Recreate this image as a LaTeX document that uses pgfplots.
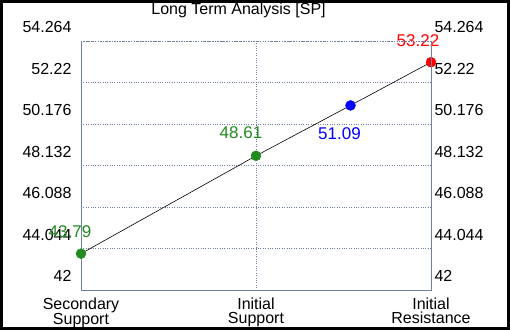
\documentclass[border=0pt]{standalone}
\usepackage{pgfplots}
\pgfplotsset{compat=1.18}
\usepackage{fontspec}
\setmainfont{Liberation Sans}
\definecolor{axc}{RGB}{112,128,164}
\definecolor{grn}{RGB}{34,139,34}
\begin{document}
\begin{tikzpicture}[x=1bp,y=1bp]
\fill[black] (0,0) rectangle (510,330);
\fill[white] (3,3) rectangle (507,327);
\pgfplotsset{
  common/.style={
    scale only axis, width=350bp, height=249bp,
    at={(81bp,40bp)}, anchor=south west,
    xmin=0, xmax=2, ymin=42, ymax=54.264,
    ytick={42,44.044,46.088,48.132,50.176,52.22,54.264},
    yticklabels={42,44.044,46.088,48.132,50.176,52.22,54.264},
    major tick length=0pt,
    axis line style={axc, line width=0.9bp},
    tick label style={font=\fontsize{16bp}{14bp}\selectfont},
  }
}
\begin{axis}[common,
  axis x line*=bottom, axis y line*=left,
  xtick={0,1,2},
  xticklabels={Secondary\\Support, Initial\\Support, Initial\\Resistance},
  xticklabel style={align=center, yshift=-4bp},
  yticklabel style={yshift=14bp, xshift=-6bp},
  grid=major,
  grid style={axc, dotted, line width=0.8bp},
  clip=false]
\addplot[black, line width=0.6bp] coordinates {(0,43.79) (1,48.61) (1.54,51.09) (2,53.22)};
\addplot[only marks, mark=*, mark size=5bp, grn, mark options={draw=grn, fill=grn}] coordinates {(0,43.79) (1,48.61)};
\addplot[only marks, mark=*, mark size=5bp, mark options={draw=blue, fill=blue}] coordinates {(1.54,51.09)};
\addplot[only marks, mark=*, mark size=5bp, mark options={draw=red, fill=red}] coordinates {(2,53.22)};
\node[grn, font=\fontsize{17bp}{17bp}\selectfont, xshift=-11bp, yshift=22bp] at (axis cs:0,43.79) {43.79};
\node[grn, font=\fontsize{17bp}{17bp}\selectfont, xshift=-15bp, yshift=23bp] at (axis cs:1,48.61) {48.61};
\node[blue, font=\fontsize{17bp}{17bp}\selectfont, xshift=-11bp, yshift=-28bp] at (axis cs:1.54,51.09) {51.09};
\node[red, font=\fontsize{17bp}{17bp}\selectfont, xshift=-13bp, yshift=22bp] at (axis cs:2,53.22) {53.22};
\draw[axc, dotted, line width=0.8bp] (axis cs:0,54.264) -- (axis cs:2,54.264);
\end{axis}
\begin{axis}[common,
  axis x line=none, axis y line*=right,
  xtick=\empty,
  yticklabel style={yshift=14bp, xshift=0bp, anchor=west}]
\end{axis}
\node[font=\fontsize{16bp}{16bp}\selectfont, anchor=base] at (238.5,315) {Long Term Analysis [SP]};
\end{tikzpicture}
\end{document}
